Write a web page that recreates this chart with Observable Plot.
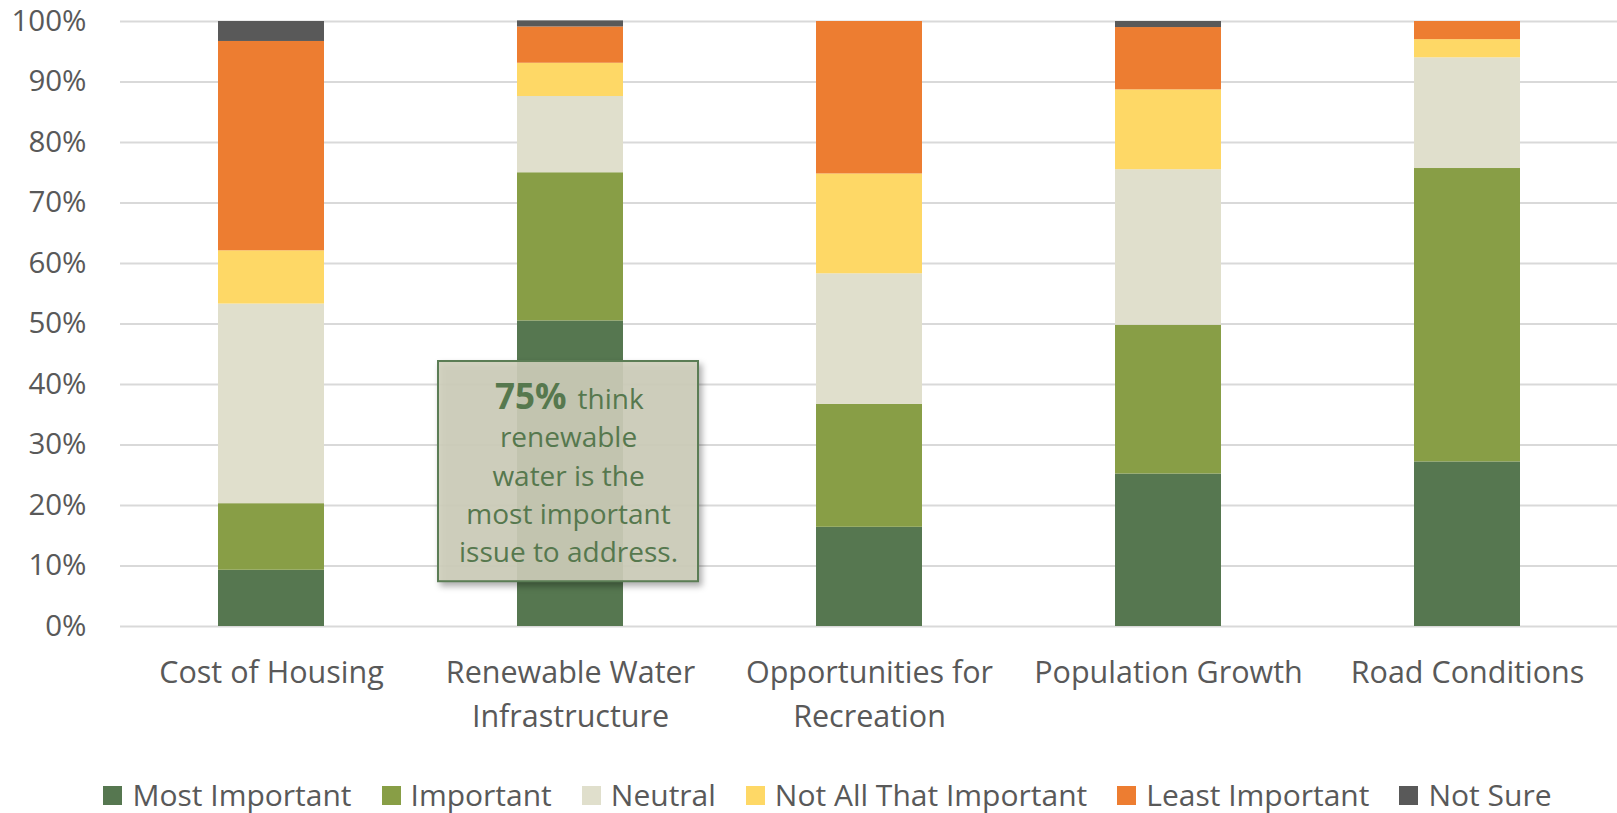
<!DOCTYPE html>
<html><head><meta charset="utf-8">
<script src="https://cdn.jsdelivr.net/npm/d3@7"></script>
<script src="https://cdn.jsdelivr.net/npm/@observablehq/plot@0.6"></script>
<style>
body{margin:0;background:#fff;overflow:hidden;}
#chart{width:1617px;}
#legend svg{margin-right:10px !important;}
</style></head><body><div id="chart"></div><div id="legend"></div>
<script>
const categories = ["Cost of Housing", "Renewable Water Infrastructure", "Opportunities for Recreation", "Population Growth", "Road Conditions"];
const categoryLabels = ["Cost of Housing", "Renewable Water\nInfrastructure", "Opportunities for\nRecreation", "Population Growth", "Road Conditions"];
const seriesNames = ["Most Important", "Important", "Neutral", "Not All That Important", "Least Important", "Not Sure"];
const seriesColors = ["#567750", "#889E46", "#E0DFCC", "#FED866", "#ED7D31", "#595959"];

const mostImportant       = [9.3, 50.5, 16.4, 25.2, 27.2];
const important           = [11.0, 24.5, 20.3, 24.6, 48.5];
const neutral             = [33.0, 12.6, 21.6, 25.7, 18.3];
const notAllThatImportant = [8.8, 5.5, 16.5, 13.2, 3.0];
const leastImportant      = [34.6, 6.0, 25.2, 10.3, 3.0];
const notSure             = [3.3, 1.0, 0, 1.0, 0];

const yTicks = [0, 10, 20, 30, 40, 50, 60, 70, 80, 90, 100];

const calloutCategory = "Renewable Water Infrastructure";
const calloutBox = [{category: calloutCategory, y1: 7.4, y2: 43.8}];
const calloutBold = [{category: calloutCategory, y: 36.0, text: "75%"}];
const calloutFirst = [{category: calloutCategory, y: 36.0, text: "think"}];
const calloutRest = [{category: calloutCategory, y: 10.6, text: "renewable\nwater is the\nmost important\nissue to address."}];

const seriesValues = [mostImportant, important, neutral, notAllThatImportant, leastImportant, notSure];
const data = seriesNames.flatMap((s, i) => categories.map((c, j) => ({category: c, series: s, value: seriesValues[i][j]})));

const FONT = "'Segoe UI', 'Open Sans', sans-serif";
const W = 1617, H = 774;
const textGray = "#595959";
const calloutGreen = "#56784e";
const calloutFill = "#d0d0bc";

const chart = Plot.plot({
  width: W, height: H,
  marginLeft: 120, marginRight: 0, marginTop: 21, marginBottom: H - 626,
  style: {fontFamily: FONT, fontSize: "29px", color: textGray, background: "#fff", overflow: "visible"},
  x: {domain: categories, paddingInner: 0.646, paddingOuter: 0.323, label: null},
  y: {domain: [0, 100], label: null},
  color: {domain: seriesNames, range: seriesColors},
  marks: [
    Plot.ruleY(yTicks, {stroke: "#d9d9d9", strokeWidth: 2}),
    Plot.barY(data, {x: "category", y: "value", fill: "series", order: seriesNames}),
    Plot.axisY({ticks: yTicks, tickSize: 0, tickPadding: 34, tickFormat: d => d + "%", fill: textGray, fontSize: 29.5, label: null}),
    Plot.axisX({tickSize: 0, tickPadding: 26, tickFormat: d => categoryLabels[categories.indexOf(d)], lineHeight: 1.42, fill: textGray, fontSize: 30.5, label: null}),
    Plot.barY(calloutBox, {x: "category", y1: "y1", y2: "y2", fill: calloutFill, fillOpacity: 0.9, stroke: "#5b7d55", strokeWidth: 2, insetLeft: -79, insetRight: -75}),
    Plot.text(calloutBold, {x: "category", y: "y", text: "text", textAnchor: "end", lineAnchor: "bottom", dx: -4, fill: calloutGreen, fontSize: 35, fontWeight: "bold"}),
    Plot.text(calloutFirst, {x: "category", y: "y", text: "text", textAnchor: "start", lineAnchor: "bottom", dx: 7, fill: calloutGreen, fontSize: 28}),
    Plot.text(calloutRest, {x: "category", y: "y", text: "text", textAnchor: "middle", lineAnchor: "bottom", dx: -2, fill: calloutGreen, fontSize: 28, lineHeight: 1.371})
  ]
});
d3.select(chart).selectAll(`g[fill='${calloutFill}']`).style("filter", "drop-shadow(3px 4px 3px rgba(0,0,0,0.35))");
document.getElementById("chart").appendChild(chart);

const legend = Plot.legend({
  color: {domain: seriesNames, range: seriesColors},
  swatchSize: 19,
  style: {fontFamily: FONT, fontSize: "30px", lineHeight: "1.15", color: textGray, justifyContent: "center", paddingLeft: "68px", margin: "0", minHeight: "42px", height: "42px"}
});
document.getElementById("legend").appendChild(legend);
</script></body></html>
